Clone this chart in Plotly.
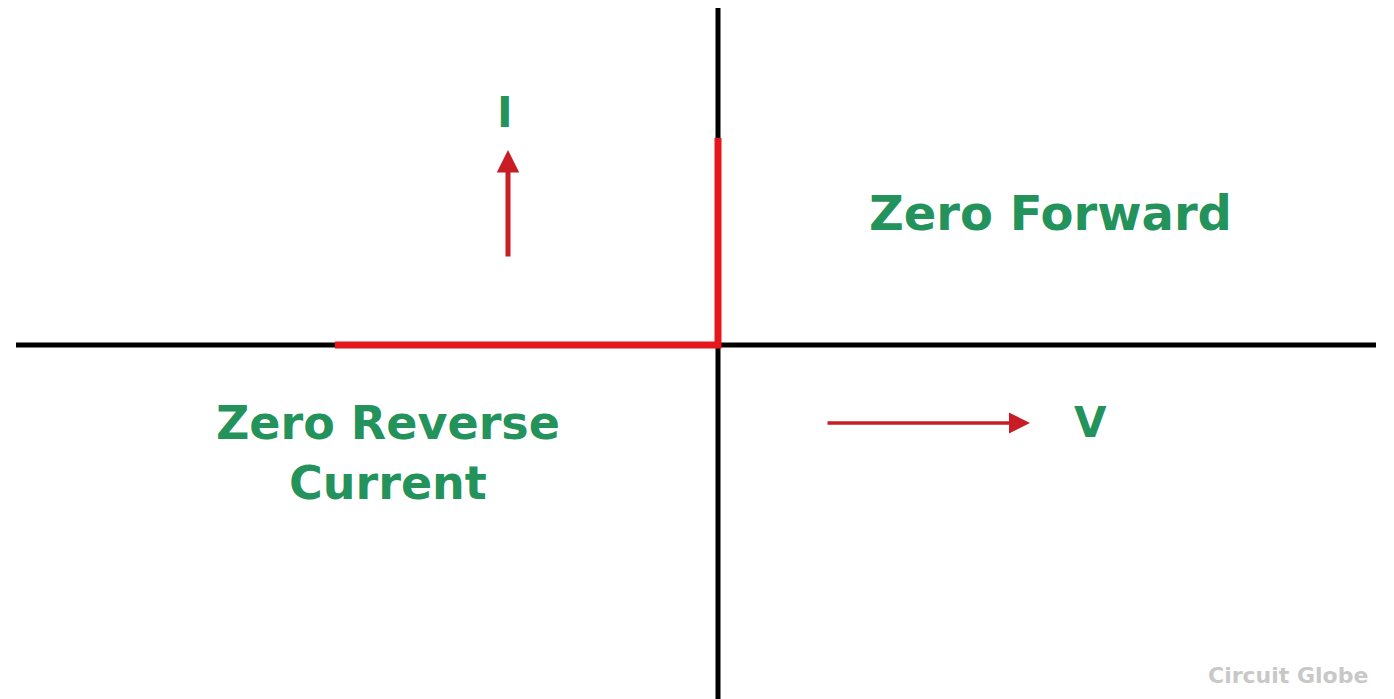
import plotly.graph_objects as go

# Data (units: 1 unit = 100 px on the canvas, origin at the axes crossing)
axis_h_x = [-7.02, 6.58]
axis_h_y = [0, 0]
axis_v_x = [0, 0]
axis_v_y = [3.37, -3.62]

curve_v = [-3.83, 0.0, 0.0]   # ideal diode V-I: zero reverse current, zero forward voltage
curve_i = [0.0, 0.0, 2.07]

arrow_i = {"x": -2.10, "y0": 0.87, "y1": 1.95}
arrow_v = {"y": -0.78, "x0": 1.08, "x1": 3.12}

labels = ["I", "V", "Zero Forward", "Zero Reverse<br>Current"]
label_x = [-2.13, 3.72, 3.32, -3.30]
label_y = [2.33, -0.77, 1.32, -1.08]
label_size = [42, 42, 48, 46]

watermark = "Circuit Globe"

GREEN = "#23925b"
RED = "#e3171c"
DARKRED = "#c81d25"

fig = go.Figure()
fig.add_trace(go.Scatter(x=axis_h_x, y=axis_h_y, mode="lines",
                         line=dict(color="black", width=5), hoverinfo="skip"))
fig.add_trace(go.Scatter(x=axis_v_x, y=axis_v_y, mode="lines",
                         line=dict(color="black", width=5), hoverinfo="skip"))
fig.add_trace(go.Scatter(x=curve_v, y=curve_i, mode="lines",
                         line=dict(color=RED, width=7), hoverinfo="skip"))

# arrows
fig.add_annotation(x=arrow_i["x"], y=arrow_i["y1"], ax=arrow_i["x"], ay=arrow_i["y0"],
                   xref="x", yref="y", axref="x", ayref="y", text="",
                   showarrow=True, arrowhead=2, arrowsize=0.9, arrowwidth=5,
                   arrowcolor=DARKRED)
fig.add_annotation(x=arrow_v["x1"], y=arrow_v["y"], ax=arrow_v["x0"], ay=arrow_v["y"],
                   xref="x", yref="y", axref="x", ayref="y", text="",
                   showarrow=True, arrowhead=2, arrowsize=1.2, arrowwidth=3.5,
                   arrowcolor=DARKRED)

for t, x, y, s in zip(labels, label_x, label_y, label_size):
    fig.add_annotation(x=x, y=y, xref="x", yref="y", text="<b>" + t + "</b>",
                       showarrow=False, xanchor="center", yanchor="middle",
                       align="center",
                       font=dict(family="DejaVu Sans", size=s, color=GREEN))

fig.add_annotation(x=5.70, y=-3.30, xref="x", yref="y", text="<b>" + watermark + "</b>",
                   showarrow=False, xanchor="center", yanchor="middle",
                   font=dict(family="DejaVu Sans", size=22, color="#c8c8c8"))

# page body has an 8 px margin, so ranges are offset to land the origin at (718, 345)
fig.update_layout(
    width=1394, height=699,
    margin=dict(l=0, r=0, t=0, b=0),
    paper_bgcolor="white", plot_bgcolor="white",
    showlegend=False,
    xaxis=dict(range=[-7.10, 6.84], visible=False, fixedrange=True),
    yaxis=dict(range=[-3.62, 3.37], visible=False, fixedrange=True),
)

fig.write_html("out.html")
